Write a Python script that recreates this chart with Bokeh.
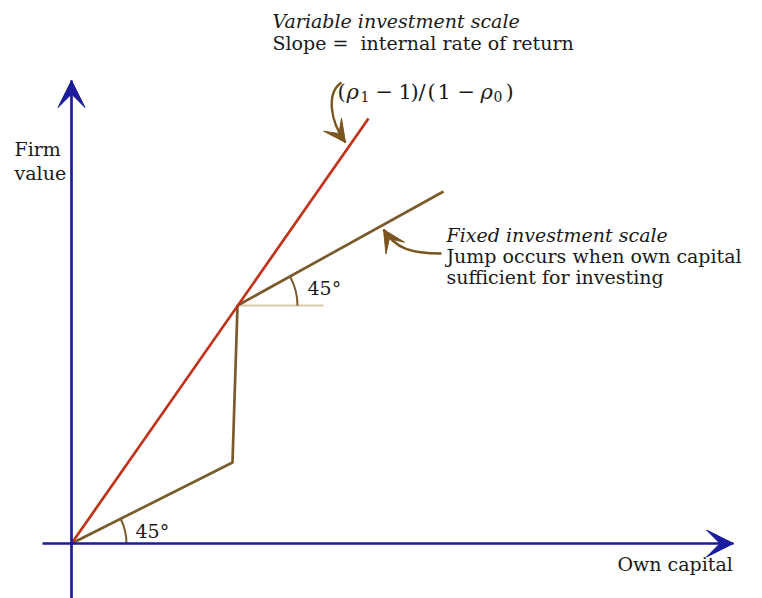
import math
from bokeh.plotting import figure
from bokeh.models import Range1d, Label, Arrow, VeeHead
from bokeh.embed import file_html
from bokeh.resources import INLINE

# Diagram coordinates: origin at the axes' crossing, units of one screen pixel.
x_axis_x = [-29, 662]          # own capital axis extent
y_axis_y = [-55, 463]          # firm value axis extent
variable_x = [0, 297]          # variable investment scale line
variable_y = [0, 425]
fixed_x = [0, 161, 166, 372]   # fixed investment scale (with the jump)
fixed_y = [0, 81, 238, 352]
ref_x = [166, 252]             # horizontal reference at the jump
ref_y = [238, 238]

# curved pointer from the formula to the variable line
ptr1_x = [270, 255, 258, 274]
ptr1_y = [461, 451, 423, 401]
# curved pointer from the fixed-scale note to the fixed line
ptr2_x = [370, 339, 324, 312]
ptr2_y = [290, 290, 295, 314]

BLUE = "#1b1b9e"
RED = "#c0321a"
BROWN = "#7b5a2c"
PTR = "#7a5520"
LIGHT = "#d9c9a9"
INK = "#1a1a1a"
FONT = "DejaVu Serif"

p = figure(width=762, height=598, x_range=Range1d(-71, 691), y_range=Range1d(-55, 543),
           output_backend="svg", toolbar_location=None, min_border=0,
           x_axis_location=None, y_axis_location=None)
p.grid.visible = False
p.outline_line_color = None
p.background_fill_color = "white"

# reference line and lines
p.line(ref_x, ref_y, line_color=LIGHT, line_width=2)
p.line(fixed_x, fixed_y, line_color=BROWN, line_width=2.7)
p.line(variable_x, variable_y, line_color=RED, line_width=2.7)

# angle arcs
a1 = math.atan2(fixed_y[1], fixed_x[1])
p.arc(x=[fixed_x[0]], y=[fixed_y[0]], radius=55, start_angle=0, end_angle=a1,
      line_color=BROWN, line_width=2)
a2 = math.atan2(fixed_y[3] - fixed_y[2], fixed_x[3] - fixed_x[2])
p.arc(x=[fixed_x[2]], y=[fixed_y[2]], radius=60, start_angle=0, end_angle=a2,
      line_color=BROWN, line_width=2)

# axes with arrow heads
p.line(x_axis_x, [0, 0], line_color=BLUE, line_width=2.7)
p.line([0, 0], y_axis_y, line_color=BLUE, line_width=2.7)
p.add_layout(Arrow(x_start=x_axis_x[1] - 20, y_start=0, x_end=x_axis_x[1], y_end=0,
                   line_alpha=0,
                   end=VeeHead(size=27, fill_color=BLUE, line_color=BLUE, line_width=1)))
p.add_layout(Arrow(x_start=0, y_start=y_axis_y[1] - 20, x_end=0, y_end=y_axis_y[1],
                   line_alpha=0,
                   end=VeeHead(size=27, fill_color=BLUE, line_color=BLUE, line_width=1)))

# curved pointers
for bx, by in ((ptr1_x, ptr1_y), (ptr2_x, ptr2_y)):
    p.bezier(x0=[bx[0]], y0=[by[0]], cx0=[bx[1]], cy0=[by[1]], cx1=[bx[2]], cy1=[by[2]],
             x1=[bx[3]], y1=[by[3]], line_color=PTR, line_width=2.4)
    p.add_layout(Arrow(x_start=bx[2], y_start=by[2], x_end=bx[3], y_end=by[3], line_alpha=0,
                       end=VeeHead(size=22, fill_color=PTR, line_color=PTR, line_width=1)))


def label(x, y, text, style="normal", size="19px"):
    p.add_layout(Label(x=x, y=y, text=text, text_font=FONT, text_font_size=size,
                       text_font_style=style, text_baseline="middle", text_align="left",
                       text_color=INK))


label(201, 523, "Variable investment scale", "italic")
label(201, 501, "Slope =\u00a0 internal rate of return")

# slope formula (ρ1 − 1)/(1 − ρ0), set piece by piece for italic symbols and subscripts
formula = [
    (266, "(", "normal", "21px", 0), (275, "ρ", "italic", "21px", 0),
    (289, "1", "normal", "14px", -5), (304, "\u2212", "normal", "21px", 0),
    (327, "1", "normal", "21px", 0), (339, ")", "normal", "21px", 0),
    (347, "/", "normal", "21px", 0), (356, "(", "normal", "21px", 0),
    (366, "1", "normal", "21px", 0), (386, "\u2212", "normal", "21px", 0),
    (409, "ρ", "italic", "21px", 0), (422, "0", "normal", "14px", -5),
    (434, ")", "normal", "21px", 0),
]
for fx, ft, fs, fz, dy in formula:
    label(fx, 452 + dy, ft, fs, fz)

label(-57, 395, "Firm")
label(-57, 371, "value")
label(236, 256, "45°")
label(64, 13, "45°")
label(375, 309, "Fixed investment scale", "italic")
label(375, 288, "Jump occurs when own capital")
label(375, 267, "sufficient for investing")
label(546, -20, "Own capital")

open("out.html", "w").write(file_html(p, INLINE))
